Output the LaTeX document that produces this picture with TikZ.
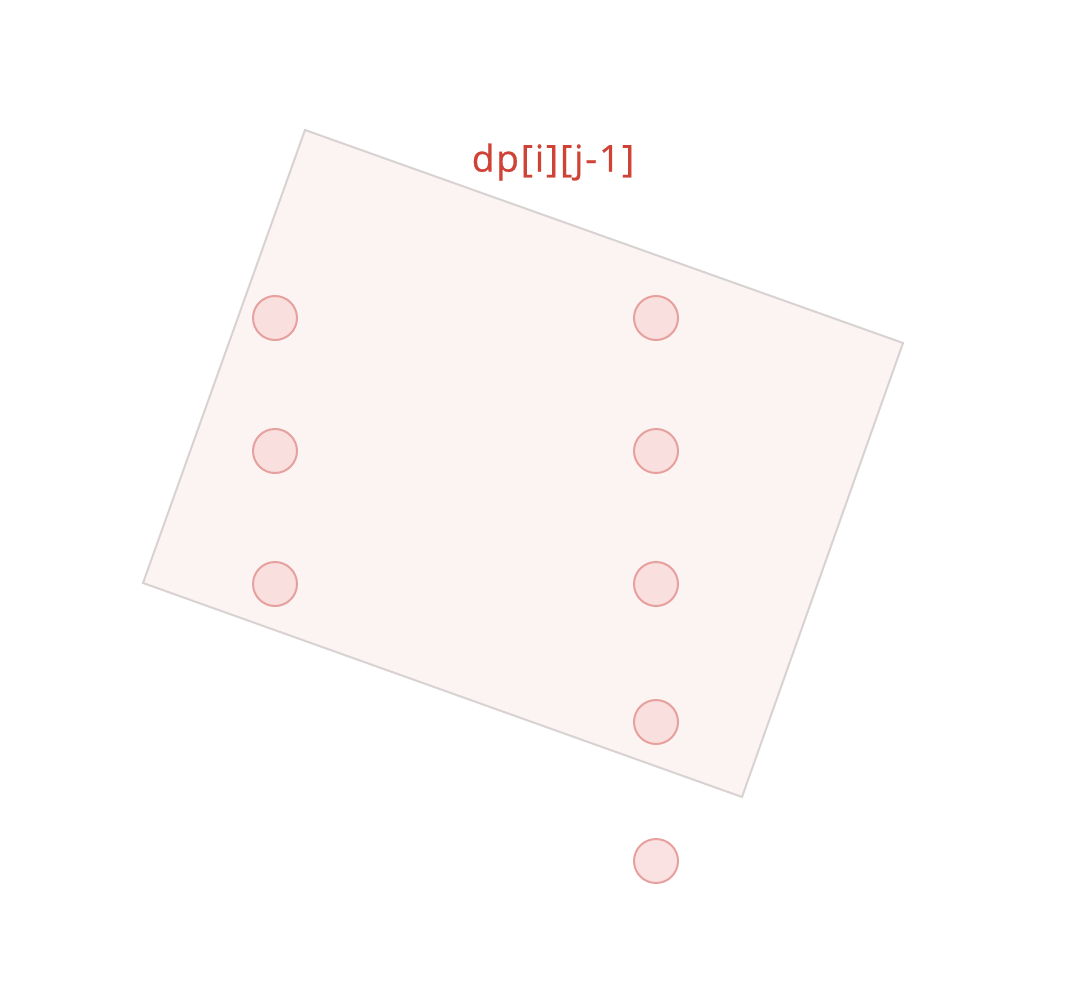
\documentclass[tikz,border=0pt]{standalone}
\usepackage{fontspec}
\setmainfont{Open Sans}
\usepackage{tikz}
\definecolor{boxfill}{HTML}{FCF4F3}
\definecolor{boxline}{HTML}{D8D2D2}
\definecolor{dotfill}{HTML}{F9D8D8}
\definecolor{dotline}{HTML}{E6A19F}
\definecolor{labred}{HTML}{CF4336}
\tikzset{
  dot/.style={circle, draw=dotline, fill=dotfill, fill opacity=0.75, draw opacity=1, line width=2pt, minimum size=44pt, inner sep=0pt},
}

\begin{document}
\begin{tikzpicture}[x=1pt, y=-1pt]
        \useasboundingbox (0,0) rectangle (1086,1000);
        \draw[boxline, fill=boxfill, line width=2pt, line join=miter] (305,130) -- (903,343) -- (742,797) -- (143,583) -- cycle;

        \node [labred, font=\fontsize{37}{40}\selectfont\addfontfeatures{LetterSpace=5, FakeBold=0.6}] (lab) at (553,162) {dp[i][j-1]};

        \node [dot] (l1) at (275,318) {};
        \node [dot, below of=l1, node distance=133pt] (l2) {};
        \node [dot, below of=l2, node distance=133pt] (l3) {};
        \node [dot] (r1) at (656,318) {};
        \node [dot, below of=r1, node distance=133pt] (r2) {};
        \node [dot, below of=r2, node distance=133pt] (r3) {};
        \node [dot, below of=r3, node distance=138pt] (r4) {};
        \node [dot, below of=r4, node distance=139pt] (r5) {};
      \end{tikzpicture}
\end{document}
